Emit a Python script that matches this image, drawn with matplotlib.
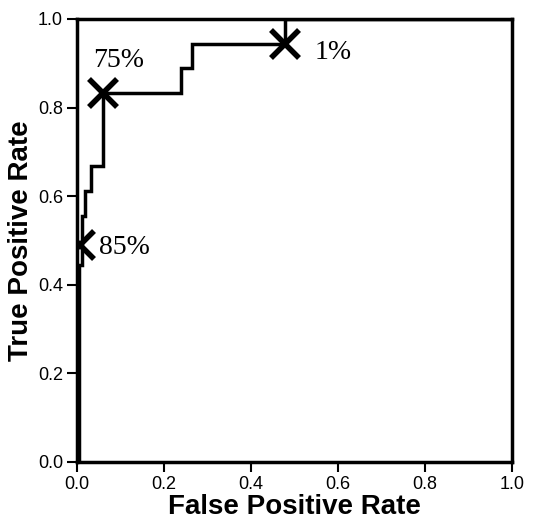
import numpy as np
import matplotlib
matplotlib.use('Agg')
import matplotlib.pyplot as plt

#roc curve
fpr = [0.005, 0.005, 0.012, 0.012, 0.018, 0.018, 0.032, 0.032, 0.06, 0.06, 0.24, 0.24, 0.265, 0.265, 0.478, 0.478, 1.0]
tpr = [0.0, 0.444, 0.444, 0.556, 0.556, 0.611, 0.611, 0.667, 0.667, 0.833, 0.833, 0.889, 0.889, 0.944, 0.944, 1.0, 1.0]

#cutoff points and their labels
cut_x = [0.008, 0.06, 0.478]
cut_y = [0.49, 0.833, 0.944]
cut_lab = ['85%', '75%', '1%']
lab_x = [0.05, 0.038, 0.545]
lab_y = [0.485, 0.907, 0.925]

ticks = [0.0, 0.2, 0.4, 0.6, 0.8, 1.0]

plt.rcParams['font.family'] = 'Liberation Sans'
fig = plt.figure(figsize=(5.46, 5.25), dpi=100)
ax = fig.add_axes([0.141, 0.12, 0.797, 0.844])

ax.plot(fpr, tpr, 'k-', lw=2.5, solid_joinstyle='miter')
ax.plot(cut_x, cut_y, 'kx', ms=20, mew=4)
for x, y, s in zip(lab_x, lab_y, cut_lab):
    ax.text(x, y, s, family='Liberation Serif', fontsize=20, va='center', ha='left')

ax.set_xlim(0, 1)
ax.set_ylim(0, 1)
ax.set_xticks(ticks)
ax.set_yticks(ticks)
ax.set_xticklabels(['%.1f' % t for t in ticks])
ax.set_yticklabels(['%.1f' % t for t in ticks])
for sp in ax.spines.values():
    sp.set_linewidth(2.5)
ax.tick_params(direction='out', length=7, width=1.5, labelsize=13, colors='k', pad=3)
ax.set_xlabel('False Positive Rate', fontsize=20, fontweight='bold', labelpad=1)
ax.set_ylabel('True Positive Rate', fontsize=20, fontweight='bold', labelpad=3)

plt.savefig('out.png', dpi=100)
